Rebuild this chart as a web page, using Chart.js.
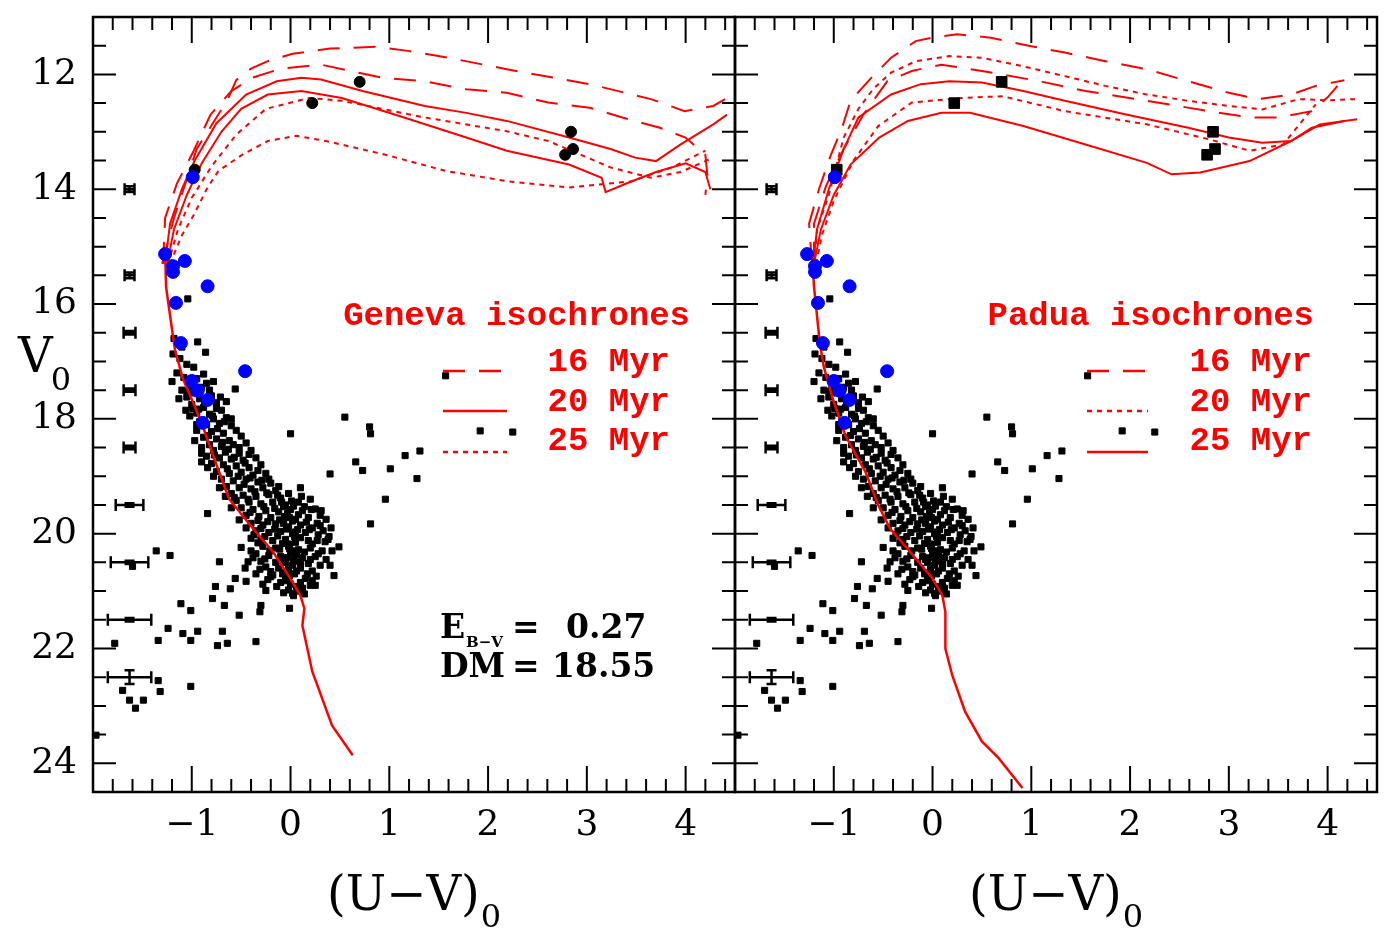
<!DOCTYPE html>
<html>
<head>
<meta charset="utf-8">
<title>CMD - Geneva / Padua isochrones</title>
<script src="https://cdn.jsdelivr.net/npm/chart.js@4.4.0/dist/chart.umd.min.js"></script>
<style>
  html, body { margin: 0; padding: 0; background: #fff; }
  #wrap { position: relative; width: 1389px; height: 930px; }
  #wrap canvas { position: absolute; left: 0; top: 0; }
</style>
</head>
<body>
<div id="wrap">
  <canvas id="geneva" width="1389" height="930"></canvas>
  <canvas id="padua" width="1389" height="930"></canvas>
</div>
<script>
const RED = '#ff0000';
const BLUE = '#0000ff';

// ticks
const xTicks = [-1, 0, 1, 2, 3, 4];
const yTicks = [12, 14, 16, 18, 20, 22, 24];
const ages = ['16 Myr', '20 Myr', '25 Myr'];

// photometric error bars (left column)
const errX = -1.63;
const errMag = [14, 15.5, 16.5, 17.5, 18.5, 19.5, 20.5, 21.5, 22.5];
const errColor = [0.05, 0.05, 0.06, 0.06, 0.06, 0.14, 0.19, 0.22, 0.22];
const errV = [0.05, 0.05, 0.03, 0.03, 0.03, 0.03, 0.03, 0.03, 0.12];

// stars: [(U-V)0, V0]
const blueStars = [[-0.99,13.79],[-1.27,15.13],[-1.19,15.34],[-1.19,15.44],[-1.07,15.25],[-0.84,15.69],
  [-1.16,15.98],[-1.11,16.68],[-0.46,17.17],[-1.0,17.34],[-0.94,17.51],[-0.84,17.67],[-0.89,18.07]];

const brightStars = [[-0.97,13.66],[0.22,12.5],[0.70,12.13],[2.84,13.0],[2.78,13.4],[2.86,13.3]];

const fieldStars = [[1.57,17.25],[0.55,17.97],[0.80,18.14],[0.81,18.26],[1.92,18.21],[2.25,18.23],[0.40,18.96],
  [0.66,18.75],[0.73,18.90],[1.01,18.87],[1.16,18.64],[1.31,18.56],[0.0,18.26],[-0.56,17.48],[-0.94,16.66],
  [-0.86,16.84],[-1.04,15.91],[-1.19,16.87],[1.28,19.04],[0.96,19.40],[0.81,19.83],[0.44,20.73],[-0.84,19.65],
  [-1.36,20.30],[-1.22,20.38],[-1.60,20.57],[-0.72,20.49],[-1.11,21.22],[-1.01,21.34],[-0.79,21.13],[-0.67,21.25],
  [-0.52,21.42],[-0.30,21.25],[-0.31,21.36],[-0.01,21.30],[-1.24,21.65],[-1.34,21.86],[-1.09,21.74],[-1.01,21.86],
  [-0.94,21.70],[-0.69,21.70],[-0.74,21.95],[-0.64,21.91],[-0.35,21.88],[-1.78,21.91],[-1.97,23.51],[-1.34,22.56],
  [-1.32,22.75],[-1.70,22.73],[-1.63,22.90],[-1.57,23.04],[-1.49,22.90],[-1.01,22.66],[-0.56,20.78],[-0.45,20.83],
  [-0.61,20.96],[-0.76,20.92],[-0.25,20.99],[-0.43,20.49],[-0.20,20.75],[0.02,21.04],[0.22,20.82],[0.25,20.90],
  [0.35,20.14],[0.49,20.23],[0.39,20.05],[0.30,19.86]];

const clusterStars = [[-1.12,16.95],[-1.05,17.05],[-0.98,17.1],[-1.15,17.2],[-1.08,17.28],[-0.95,17.3],[-1.02,17.42],
  [-0.9,17.45],[-1.1,17.5],[-0.85,17.38],[-0.97,17.55],[-1.05,17.62],[-0.92,17.65],[-0.8,17.6],[-1.0,17.75],
  [-0.88,17.8],[-0.75,17.72],[-0.95,17.9],[-0.82,17.92],[-0.7,17.85],[-1.02,17.95],[-0.78,18.0],[-0.65,17.98],
  [-0.92,18.05],[-0.85,18.1],[-0.72,18.08],[-0.6,18.12],[-0.95,18.2],[-0.8,18.22],[-0.68,18.25],[-0.55,18.2],
  [-0.88,18.32],[-0.75,18.35],[-0.62,18.38],[-0.5,18.3],[-0.82,18.45],[-0.7,18.48],[-0.58,18.45],[-0.45,18.42],
  [-0.9,18.5],[-0.78,18.55],[-0.66,18.58],[-0.52,18.6],[-0.4,18.55],[-0.85,18.65],[-0.72,18.68],[-0.6,18.7],
  [-0.48,18.72],[-0.35,18.68],[-0.8,18.78],[-0.68,18.8],[-0.55,18.82],[-0.42,18.85],[-0.3,18.8],[-0.75,18.92],
  [-0.62,18.95],[-0.5,18.93],[-0.38,18.98],[-0.25,18.95],[-0.7,19.05],[-0.58,19.08],[-0.45,19.05],[-0.33,19.1],
  [-0.2,19.12],[-0.65,19.18],[-0.52,19.2],[-0.4,19.22],[-0.28,19.2],[-0.15,19.25],[-0.6,19.3],[-0.48,19.33],
  [-0.35,19.35],[-0.22,19.32],[-0.1,19.38],[-0.55,19.42],[-0.42,19.45],[-0.3,19.48],[-0.18,19.45],[-0.05,19.5],
  [0.08,19.45],[0.2,19.4],[-0.5,19.55],[-0.38,19.58],[-0.25,19.6],[-0.12,19.62],[0.0,19.58],[0.12,19.6],
  [-0.45,19.68],[-0.32,19.7],[-0.2,19.72],[-0.06,19.7],[0.05,19.75],[0.18,19.72],[0.3,19.68],[-0.4,19.82],
  [-0.28,19.85],[-0.15,19.83],[-0.02,19.88],[0.1,19.85],[0.22,19.9],[-0.35,19.95],[-0.22,19.98],[-0.1,19.96],
  [0.02,20.0],[0.15,19.98],[0.28,20.02],[-0.4,20.08],[-0.3,20.1],[-0.18,20.12],[-0.05,20.1],[0.05,20.15],
  [0.18,20.12],[-0.28,20.22],[-0.15,20.25],[-0.02,20.22],[0.08,20.28],[0.2,20.25],[0.32,20.3],[-0.35,20.35],
  [-0.22,20.38],[-0.1,20.4],[0.0,20.35],[0.12,20.42],[0.25,20.4],[-0.3,20.48],[-0.05,20.5],[0.06,20.48],
  [0.18,20.52],[-0.25,20.58],[-0.12,20.6],[-0.02,20.62],[0.1,20.6],[0.22,20.65],[-0.18,20.72],[-0.05,20.75],
  [0.04,20.7],[0.15,20.78],[-0.1,20.85],[0.0,20.88],[0.1,20.85],[-0.02,20.98],[0.08,21.0],[0.03,21.08],
  [-0.03,19.65],[0.02,19.78],[-0.04,19.92],[0.04,20.05],[-0.02,20.18],[0.03,20.3],[-0.04,20.42],[0.02,20.55],
  [-0.06,20.68],[0.06,20.92],[-1.18,16.6],[-1.1,16.75],[-1.2,17.35],[-1.13,17.65],[-1.06,17.85],[-0.97,18.38],
  [-0.9,18.75],
  [-0.93,17.83],[-0.87,17.71],[-0.79,17.95],[-0.74,18.17],[-0.83,18.29],[-0.69,18.41],[-0.63,18.53],[-0.77,18.63],
  [-0.57,18.67],[-0.46,18.77],[-0.64,18.87],[-0.53,19.0],[-0.41,19.03],[-0.29,19.07],[-0.47,19.14],[-0.36,19.27],
  [-0.24,19.29],[-0.13,19.33],[-0.57,19.37],[-0.43,19.4],[-0.27,19.53],[-0.16,19.56],[-0.07,19.53],[0.03,19.52],
  [0.14,19.53],[0.25,19.57],[-0.41,19.63],[-0.33,19.77],[-0.23,19.79],[-0.11,19.76],[0.08,19.67],[0.16,19.8],
  [0.27,19.82],[0.36,19.75],[-0.45,19.9],[-0.3,19.91],[-0.16,19.92],[-0.07,19.82],[0.07,19.93],[0.19,19.93],
  [0.33,19.95],[-0.37,20.02],[-0.26,20.05],[-0.13,20.04],[-0.08,20.17],[0.1,20.07],[0.22,20.18],[0.27,20.12],
  [0.38,20.1],[-0.33,20.16],[-0.21,20.3],[-0.11,20.27],[0.06,20.36],[0.14,20.32],[0.28,20.35],[0.36,20.45],
  [-0.38,20.42],[-0.26,20.44],[-0.15,20.5],[-0.07,20.45],[0.1,20.53],[0.2,20.45],[0.3,20.55],[-0.31,20.62],
  [-0.2,20.66],[-0.08,20.7],[0.06,20.65],[0.17,20.7],[0.26,20.74],[-0.23,20.8],[-0.14,20.92],[-0.04,20.82],
  [0.12,20.95],[0.2,20.9],[-0.07,21.03],[0.14,21.05],[-0.01,20.73],[0.03,20.46],[-0.01,20.26],[0.05,19.97],
  [-0.01,19.72],[0.01,19.43],[-0.09,19.45],[0.11,19.35],[0.21,19.58],[0.31,19.6],[0.41,19.9],[0.42,20.3],
  [0.4,20.55],[-0.5,20.24],[-0.46,20.6],[-0.35,20.7],[-0.28,20.88],[-0.4,20.3],[-0.52,19.76],[-0.6,19.55],
  [-0.66,19.35],[-0.72,19.2],[-0.78,19.0],[-0.84,18.85],[-0.9,18.6],[-0.95,18.1],[-0.99,17.82],[-1.04,17.52],
  [-0.82,17.5],[-0.75,17.82],[-0.67,18.05],[-0.52,18.5],[-0.42,18.62],[-0.33,18.9],[-0.22,19.05],[-0.12,19.18],
  [-0.02,19.3],[0.1,19.2],[-0.6,18.0],[-0.71,17.62],[-0.88,17.22],[-0.78,17.35],[-0.65,17.7]];

// Geneva isochrones
const gen16a = [[-1.3,15.3],[-1.18,14.5],[-0.95,13.3],[-0.75,12.75],[-0.64,12.45],[-0.55,12.1],[-0.4,11.9],
  [-0.23,11.77],[0.02,11.64],[0.4,11.55],[0.86,11.52],[1.19,11.59],[1.57,11.7],[2.19,11.91],[3.03,12.17],
  [3.65,12.43],[3.99,12.64],[4.28,12.55],[4.4,12.43]];
const gen16b = [[-1.29,15.3],[-1.27,14.5],[-1.15,13.9],[-0.98,13.33],[-0.81,12.7],[-0.6,12.29],[-0.39,12.06],
  [-0.1,11.9],[0.31,11.83],[0.69,11.97],[0.94,12.06],[1.36,12.12],[1.78,12.26],[2.19,12.32],[2.61,12.49],
  [3.03,12.58],[3.36,12.75],[3.74,12.93],[4.0,13.1],[4.2,13.4],[4.22,13.75],[4.2,14.1]];
const gen20a = [[-1.27,15.3],[-1.22,14.6],[-1.1,14.0],[-0.97,13.5],[-0.75,12.85],[-0.45,12.35],[-0.14,12.12],
  [0.11,12.06],[0.31,12.09],[0.73,12.29],[1.36,12.55],[1.78,12.67],[2.19,12.81],[2.82,13.1],[3.24,13.3],
  [3.49,13.45],[3.7,13.51],[3.95,13.22],[4.28,12.87],[4.42,12.7]];
const gen20b = [[-1.25,15.3],[-1.18,14.7],[-1.05,14.1],[-0.9,13.55],[-0.7,13.0],[-0.5,12.6],[-0.23,12.35],
  [0.11,12.29],[0.52,12.41],[1.15,12.75],[1.78,13.1],[2.19,13.33],[2.82,13.57],[3.15,13.8],[3.19,14.05],
  [3.4,13.9],[3.7,13.7],[4.0,13.55],[4.2,13.7],[4.25,14.0]];
const gen25a = [[-1.24,15.3],[-1.14,14.7],[-1.0,14.15],[-0.8,13.6],[-0.55,13.05],[-0.25,12.6],[0.19,12.41],
  [0.52,12.46],[1.36,12.75],[2.19,12.99],[2.61,13.16],[3.24,13.62],[3.65,13.8],[3.95,13.7],[4.28,13.45]];
const gen25b = [[-1.22,15.3],[-1.1,14.8],[-0.98,14.45],[-0.85,14.0],[-0.73,13.68],[-0.48,13.39],[-0.23,13.16],
  [0.06,13.07],[0.36,13.16],[0.94,13.39],[1.57,13.68],[2.19,13.86],[2.82,13.97],[3.45,13.86],[3.86,13.62],[4.2,13.33]];
const genMS = [[-1.27,15.1],[-1.26,15.7],[-1.22,16.2],[-1.17,16.8],[-1.09,17.3],[-0.99,17.7],[-0.89,18.12],
  [-0.75,18.8],[-0.62,19.4],[-0.38,19.91],[-0.18,20.31],[0.02,20.84],[0.1,21.08],[0.14,21.3],[0.12,21.6],
  [0.17,22.0],[0.22,22.4],[0.32,22.87],[0.42,23.34],[0.63,23.86]];

// Padua isochrones
const pad16a = [[-1.22,15.3],[-1.25,14.6],[-1.15,14.0],[-1.04,13.45],[-0.92,12.95],[-0.83,12.46],[-0.62,12.06],
  [-0.42,11.71],[-0.17,11.42],[0.0,11.36],[0.25,11.3],[0.59,11.36],[1.0,11.51],[1.34,11.62],[1.75,11.77],
  [2.17,11.91],[2.59,12.12],[3.0,12.32],[3.3,12.43],[3.63,12.35],[3.88,12.2],[4.17,12.1]];
const pad16b = [[-1.2,15.3],[-1.2,14.6],[-1.08,13.95],[-0.9,13.3],[-0.7,12.7],[-0.46,12.12],[-0.21,11.94],
  [0.09,11.83],[0.5,11.94],[1.09,12.12],[1.55,12.29],[2.17,12.46],[2.8,12.64],[3.21,12.75],[3.51,12.75],
  [3.84,12.64],[4.0,12.4],[4.1,12.2]];
const pad20a = [[-1.19,15.3],[-1.17,14.7],[-1.05,14.1],[-0.9,13.1],[-0.75,12.6],[-0.6,12.25],[-0.42,11.97],
  [-0.17,11.77],[0.17,11.68],[0.5,11.71],[0.92,11.86],[1.34,12.03],[1.75,12.2],[2.17,12.35],[2.59,12.46],
  [3.0,12.55],[3.34,12.61],[3.71,12.43],[4.0,12.45],[4.3,12.43]];
const pad20b = [[-1.18,15.3],[-1.12,14.8],[-1.0,14.2],[-0.8,13.5],[-0.55,12.9],[-0.21,12.49],[0.29,12.41],
  [0.71,12.38],[1.34,12.64],[2.17,12.87],[2.8,13.13],[3.21,13.33],[3.55,13.22],[3.88,12.52]];
const pad25a = [[-1.21,15.3],[-1.17,14.7],[-1.05,14.0],[-0.9,13.3],[-0.75,12.75],[-0.42,12.35],[-0.12,12.17],
  [0.17,12.12],[0.5,12.14],[0.92,12.29],[1.34,12.46],[1.96,12.7],[2.59,12.93],[3.0,13.1],[3.34,13.19],
  [3.63,13.16],[3.84,12.93],[4.17,12.81]];
const pad25b = [[-1.2,15.3],[-1.13,14.7],[-1.0,14.1],[-0.83,13.57],[-0.54,13.1],[-0.25,12.81],[0.09,12.67],
  [0.38,12.67],[0.92,12.9],[1.55,13.22],[2.17,13.54],[2.42,13.74],[2.71,13.71],[3.21,13.51],[3.63,13.16],
  [3.92,12.87],[4.3,12.78]];
const padMS = [[-1.22,15.1],[-1.2,15.7],[-1.17,16.2],[-1.14,16.7],[-1.1,17.1],[-1.01,17.65],[-0.88,18.3],
  [-0.68,18.92],[-0.55,19.5],[-0.43,19.91],[-0.23,20.31],[0.0,20.78],[0.1,21.08],[0.13,21.36],[0.13,22.0],
  [0.2,22.47],[0.33,23.1],[0.5,23.62],[0.67,23.91],[0.91,24.43]];

const DASH = [22, 14];
const DOT = [5, 5];

const pts = arr => arr.map(([x, y]) => ({ x, y }));

function curve(arr, dash, width) {
  return {
    data: pts(arr), showLine: true, borderColor: RED, borderWidth: width || 2,
    borderDash: dash, pointRadius: 0, fill: false, tension: 0
  };
}

function starSets(bigStyle) {
  return {
    blue: { data: pts(blueStars), pointStyle: 'circle', pointRadius: 6.5, backgroundColor: BLUE, borderColor: BLUE, borderWidth: 1 },
    bright: { data: pts(brightStars), pointStyle: bigStyle, pointRadius: bigStyle === 'rect' ? 7.5 : 5.5, backgroundColor: '#000', borderColor: '#000', borderWidth: 1 },
    faint: { data: pts(fieldStars.concat(clusterStars)), pointStyle: 'rect', pointRadius: 4.3, backgroundColor: '#000', borderColor: '#000', borderWidth: 1 }
  };
}

// frame + inward ticks on all four sides
const frame = {
  id: 'frame',
  afterDraw(chart) {
    const { ctx, chartArea: a, scales: { x, y } } = chart;
    ctx.save();
    ctx.strokeStyle = '#000';
    ctx.lineWidth = 2;
    ctx.setLineDash([]);
    ctx.beginPath();
    for (let i = -9; i <= 22; i++) {
      const px = x.getPixelForValue(i / 5);
      const len = i % 5 === 0 ? 26 : 13;
      ctx.moveTo(px, a.bottom); ctx.lineTo(px, a.bottom - len);
      ctx.moveTo(px, a.top); ctx.lineTo(px, a.top + len);
    }
    for (let j = 23; j <= 48; j++) {
      const py = y.getPixelForValue(j / 2);
      const len = j % 4 === 0 ? 23 : 13;
      ctx.moveTo(a.left, py); ctx.lineTo(a.left + len, py);
      ctx.moveTo(a.right, py); ctx.lineTo(a.right - len, py);
    }
    ctx.stroke();
    ctx.lineWidth = 2.5;
    ctx.strokeRect(a.left, a.top, a.right - a.left, a.bottom - a.top);
    ctx.restore();
  }
};

const errorBars = {
  id: 'errorBars',
  afterDatasetsDraw(chart) {
    const { ctx, scales: { x, y } } = chart;
    ctx.save();
    ctx.strokeStyle = '#000';
    ctx.lineWidth = 2.5;
    ctx.setLineDash([]);
    ctx.beginPath();
    errMag.forEach((m, i) => {
      const py = y.getPixelForValue(m);
      const x0 = x.getPixelForValue(errX - errColor[i]);
      const x1 = x.getPixelForValue(errX + errColor[i]);
      const xc = x.getPixelForValue(errX);
      const y0 = y.getPixelForValue(m - errV[i]);
      const y1 = y.getPixelForValue(m + errV[i]);
      ctx.moveTo(x0, py); ctx.lineTo(x1, py);
      ctx.moveTo(x0, py - 6); ctx.lineTo(x0, py + 6);
      ctx.moveTo(x1, py - 6); ctx.lineTo(x1, py + 6);
      ctx.moveTo(xc, y0); ctx.lineTo(xc, y1);
      ctx.moveTo(xc - 5, y0); ctx.lineTo(xc + 5, y0);
      ctx.moveTo(xc - 5, y1); ctx.lineTo(xc + 5, y1);
    });
    ctx.stroke();
    ctx.restore();
  }
};

function xTitle(ctx, a) {
  ctx.fillStyle = '#000';
  ctx.textAlign = 'left';
  ctx.textBaseline = 'alphabetic';
  ctx.font = '48px "DejaVu Serif"';
  const left = a.left + 234;
  ctx.fillText('(U\u2212V)', left, 910);
  const w = ctx.measureText('(U\u2212V)').width;
  ctx.font = '32px "DejaVu Serif"';
  ctx.fillText('0', left + w + 1, 927);
}

function legend(ctx, title, titleRight, labelRight, s0, s1, dashes) {
  ctx.fillStyle = RED;
  ctx.strokeStyle = RED;
  ctx.lineWidth = 2.5;
  ctx.font = 'bold 34px "Liberation Mono"';
  ctx.textAlign = 'right';
  ctx.textBaseline = 'middle';
  ctx.fillText(title, titleRight, 316);
  const ty = [362, 402, 441];
  const ly = [371, 411, 452];
  ages.forEach((lab, i) => {
    ctx.fillText(lab, labelRight, ty[i]);
    ctx.setLineDash(dashes[i]);
    ctx.beginPath();
    ctx.moveTo(s0, ly[i]);
    ctx.lineTo(s1, ly[i]);
    ctx.stroke();
  });
  ctx.setLineDash([]);
}

const genevaText = {
  id: 'genevaText',
  afterDraw(chart) {
    const { ctx, chartArea: a } = chart;
    ctx.save();
    xTitle(ctx, a);
    // V0 axis title
    ctx.font = '48px "DejaVu Serif"';
    ctx.fillText('V', 18, 372);
    const wv = ctx.measureText('V').width;
    ctx.font = '32px "DejaVu Serif"';
    ctx.fillText('0', 18 + wv - 2, 390);
    // reddening / distance modulus
    ctx.font = 'bold 33px "DejaVu Serif"';
    ctx.fillText('E', 440, 638);
    ctx.fillText('=', 512, 638);
    ctx.fillText('0.27', 566, 638);
    ctx.fillText('DM', 440, 677);
    ctx.fillText('=', 512, 677);
    ctx.fillText('18.55', 552, 677);
    ctx.font = 'bold 15px "DejaVu Serif"';
    ctx.fillText('B\u2212V', 466, 647);
    legend(ctx, 'Geneva isochrones', 690, 670, 443, 507, [DASH, [], DOT]);
    ctx.restore();
  }
};

const paduaText = {
  id: 'paduaText',
  afterDraw(chart) {
    const { ctx, chartArea: a } = chart;
    ctx.save();
    xTitle(ctx, a);
    legend(ctx, 'Padua isochrones', 1314, 1312, 1087, 1148, [DASH, DOT, []]);
    ctx.restore();
  }
};

function makeChart(id, datasets, padding, showY, textPlugin) {
  return new Chart(document.getElementById(id), {
    type: 'scatter',
    data: { datasets },
    options: {
      responsive: false,
      animation: false,
      events: [],
      layout: { padding },
      plugins: { legend: { display: false }, tooltip: { enabled: false } },
      scales: {
        x: {
          type: 'linear', min: -2, max: 4.5,
          grid: { display: false, drawTicks: false },
          border: { display: false },
          afterBuildTicks: s => { s.ticks = xTicks.map(v => ({ value: v })); },
          afterFit: s => { s.height = 138; s.paddingLeft = 0; s.paddingRight = 0; },
          ticks: {
            color: '#000', padding: 12, autoSkip: false, maxRotation: 0,
            font: { family: 'DejaVu Serif', size: 36 },
            callback: v => v < 0 ? '\u2212' + Math.abs(v) : String(v)
          }
        },
        y: {
          type: 'linear', reverse: true, min: 11, max: 24.5, display: showY,
          grid: { display: false, drawTicks: false },
          border: { display: false },
          afterBuildTicks: s => { s.ticks = yTicks.map(v => ({ value: v })); },
          afterFit: s => { s.width = showY ? 93 : 0; s.paddingTop = 0; s.paddingBottom = 0; },
          ticks: {
            color: '#000', padding: 16,
            font: { family: 'DejaVu Serif', size: 36 }
          }
        }
      }
    },
    plugins: [errorBars, frame, textPlugin]
  });
}

const g = starSets('circle');
makeChart('geneva', [
  g.blue, g.bright,
  curve(genMS, [], 2.5),
  curve(gen20a, []), curve(gen20b, []),
  curve(gen16a, DASH), curve(gen16b, DASH),
  curve(gen25a, DOT), curve(gen25b, DOT),
  g.faint
], { left: 0, right: 654, top: 17, bottom: 0 }, true, genevaText);

const p = starSets('rect');
makeChart('padua', [
  p.blue, p.bright,
  curve(padMS, [], 2.5),
  curve(pad25a, []), curve(pad25b, []),
  curve(pad16a, DASH), curve(pad16b, DASH),
  curve(pad20a, DOT), curve(pad20b, DOT),
  p.faint
], { left: 735, right: 12, top: 17, bottom: 0 }, false, paduaText);
</script>
</body>
</html>
